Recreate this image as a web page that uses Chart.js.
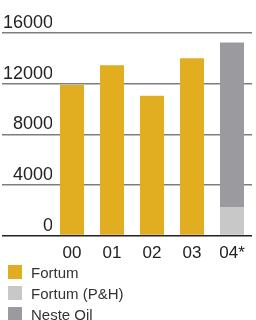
<!DOCTYPE html>
<html>
<head>
<meta charset="utf-8">
<script src="https://cdn.jsdelivr.net/npm/chart.js@4/dist/chart.umd.min.js"></script>
<style>
  html, body { margin: 0; padding: 0; background: #fff; }
  #wrap { position: relative; width: 256px; height: 320px; overflow: hidden; }
  #c { position: absolute; left: 0; top: 0; }
  #legend { position: absolute; left: 8px; top: 261.5px; font-family: "Liberation Sans", Arial, Helvetica, sans-serif; font-size: 15px; color: #333; }
  .item { display: flex; align-items: center; height: 21px; }
  .box { width: 14px; height: 14px; margin-right: 9px; flex: none; }
</style>
</head>
<body>
<div id="wrap">
  <canvas id="c" width="256" height="320"></canvas>
  <div id="legend"></div>
</div>
<script>
const categories = ['00', '01', '02', '03', '04*'];
const fortum = [11900, 13450, 11050, 14000, null];
const fortumPH = [null, null, null, null, 2250];
const nesteOil = [null, null, null, null, 13000];
const seriesNames = ['Fortum', 'Fortum (P&H)', 'Neste Oil'];
const seriesColors = ['#E1AE21', '#C8C8C8', '#9B9A9F'];
const yTicks = [0, 4000, 8000, 12000, 16000];

const font = '"Liberation Sans", Arial, Helvetica, sans-serif';

const chart = new Chart(document.getElementById('c'), {
  type: 'bar',
  data: {
    labels: categories,
    datasets: [
      { label: seriesNames[0], data: fortum, backgroundColor: seriesColors[0] },
      { label: seriesNames[1], data: fortumPH, backgroundColor: seriesColors[1] },
      { label: seriesNames[2], data: nesteOil, backgroundColor: seriesColors[2] }
    ]
  },
  options: {
    responsive: false,
    animation: false,
    events: [],
    layout: { padding: { top: 33, right: 4, bottom: 48, left: 0 } },
    datasets: { bar: { barPercentage: 0.6, categoryPercentage: 1.0 } },
    plugins: { legend: { display: false }, tooltip: { enabled: false } },
    scales: {
      x: {
        stacked: true,
        grid: { display: false, drawTicks: false },
        border: { display: false },
        ticks: { color: '#222', font: { family: font, size: 17 }, padding: 8, maxRotation: 0 }
      },
      y: {
        stacked: true,
        min: 0,
        max: 16000,
        afterBuildTicks: (scale) => { scale.ticks = yTicks.map(v => ({ value: v })); },
        afterFit: (scale) => { scale.width = 52; },
        border: { display: false },
        grid: {
          color: (ctx) => (ctx.tick && ctx.tick.value === 0) ? '#222' : '#7d7d7d',
          lineWidth: 1.5,
          tickLength: 50,
          drawTicks: true
        },
        ticks: {
          color: '#222',
          font: { family: font, size: 18 },
          padding: -51,
          labelOffset: -10,
          callback: (v) => String(v)
        }
      }
    }
  }
});

const legend = document.getElementById('legend');
seriesNames.forEach((name, i) => {
  const row = document.createElement('div');
  row.className = 'item';
  const box = document.createElement('span');
  box.className = 'box';
  box.style.background = seriesColors[i];
  const txt = document.createElement('span');
  txt.textContent = name;
  row.appendChild(box);
  row.appendChild(txt);
  legend.appendChild(row);
});
</script>
</body>
</html>
